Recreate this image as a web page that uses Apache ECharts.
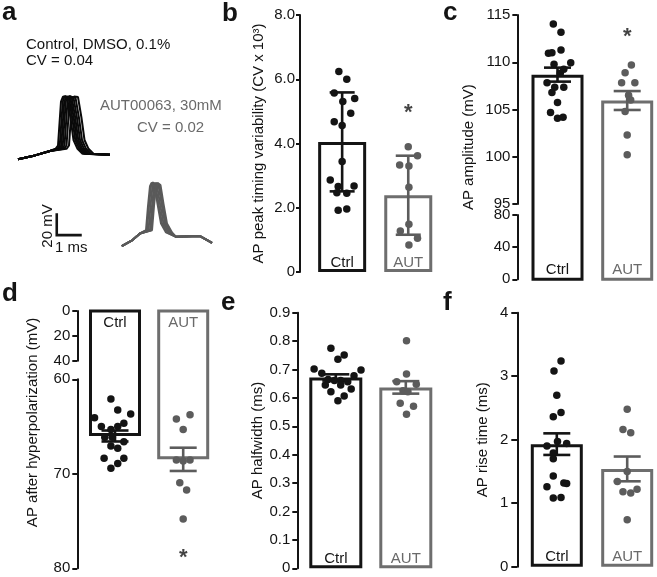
<!DOCTYPE html>
<html><head><meta charset="utf-8">
<script src="https://cdn.jsdelivr.net/npm/echarts@6/dist/echarts.min.js"></script>
<style>html,body{margin:0;padding:0;background:#fff}#c{width:657px;height:577px}</style>
</head><body><div id="c"></div>
<script>
// ---------------- DATA ----------------
const categories = ['Ctrl', 'AUT'];

// panel a : example AP traces (time in ms, membrane potential in mV, arbitrary offset)
const ctrlTraces = [
  [[0.32,-67.5],[1.0,-64],[1.6,-60],[1.82,-58],[1.92,-55],[1.98,-35],[2.04,-15],[2.12,-10.5],[2.28,-11.5],[2.42,-30],[2.54,-50],[2.70,-58],[2.90,-62.5],[4.0,-63.5]],
  [[0.32,-67.5],[1.0,-64],[1.6,-60],[1.89,-58],[1.99,-55],[2.05,-35],[2.11,-15],[2.19,-10],[2.35,-11],[2.49,-30],[2.61,-50],[2.77,-58],[2.97,-62.5],[4.0,-63.5]],
  [[0.32,-67.5],[1.0,-64],[1.6,-60],[1.95,-58],[2.05,-55],[2.11,-35],[2.17,-15],[2.25,-11],[2.41,-11.5],[2.55,-30],[2.67,-50],[2.83,-58],[3.03,-62.5],[4.0,-63.5]],
  [[0.32,-67.5],[1.0,-64],[1.6,-60],[2.01,-58],[2.11,-55],[2.17,-35],[2.23,-15],[2.31,-10.5],[2.47,-11],[2.61,-30],[2.73,-50],[2.89,-58],[3.09,-62.5],[4.0,-63.5]],
  [[0.32,-67.5],[1.0,-64],[1.6,-60],[2.08,-58],[2.18,-55],[2.24,-35],[2.30,-15],[2.38,-10],[2.54,-11.5],[2.68,-30],[2.80,-50],[2.96,-58],[3.16,-62.5],[4.0,-63.5]],
  [[0.32,-67.5],[1.0,-64],[1.6,-60],[2.16,-58],[2.26,-55],[2.32,-35],[2.38,-15],[2.46,-11],[2.62,-11.5],[2.76,-30],[2.88,-50],[3.04,-58],[3.24,-62.5],[4.0,-63.5]],
  [[0.32,-67.5],[1.0,-64],[1.6,-60],[2.26,-58],[2.36,-55],[2.42,-35],[2.48,-15],[2.56,-10.5],[2.72,-11],[2.86,-30],[2.98,-50],[3.14,-58],[3.34,-62.5],[4.0,-63.5]]
];
const autTraces = [
  [[4.47,-146.5],[4.9,-141],[5.2,-135],[5.44,-132],[5.52,-110],[5.60,-92],[5.66,-89],[5.78,-91],[5.90,-108],[6.04,-126],[6.24,-134],[6.64,-138],[7.6,-137.3],[8.08,-143.6]],
  [[4.47,-146.5],[4.9,-141],[5.2,-135],[5.48,-132],[5.56,-110],[5.64,-92],[5.70,-88.5],[5.82,-91],[5.94,-108],[6.08,-126],[6.28,-134],[6.64,-138],[7.6,-137.3],[8.08,-143.6]],
  [[4.47,-146.5],[4.9,-141],[5.2,-135],[5.54,-132],[5.62,-110],[5.70,-92],[5.76,-89],[5.88,-91.5],[6.00,-108],[6.14,-126],[6.34,-134],[6.64,-138],[7.6,-137.3],[8.08,-143.6]],
  [[4.47,-146.5],[4.9,-141],[5.2,-135],[5.60,-132],[5.68,-110],[5.76,-92],[5.82,-89],[5.94,-91],[6.06,-108],[6.20,-126],[6.40,-134],[6.64,-138],[7.6,-137.3],[8.08,-143.6]],
  [[4.47,-146.5],[4.9,-141],[5.2,-135],[5.64,-132],[5.72,-110],[5.80,-92],[5.86,-89.5],[5.98,-91],[6.10,-108],[6.24,-126],[6.44,-134],[6.64,-138],[7.6,-137.3],[8.08,-143.6]],
  [[4.47,-146.5],[4.9,-141],[5.2,-135],[5.68,-132],[5.76,-110],[5.84,-92],[5.90,-89],[6.02,-91],[6.14,-108],[6.28,-126],[6.48,-134],[6.64,-138],[7.6,-137.3],[8.08,-143.6]]
];
const scaleBar = [[1.87,-116.5],[1.87,-136.5],[2.87,-136.5]]; // 20 mV, 1 ms

// panel b : AP peak timing variability (CV x 10^3), mean +/- SD
const bMeans = [4.05, 2.39];
const bErrs = [1.54, 1.23];
const bCtrl = [6.24, 6.00, 5.57, 5.31, 5.40, 4.94, 4.68, 4.56, 3.44, 2.86, 2.66, 2.68, 2.47, 2.45, 1.92, 1.96];
const bCtrlJit = [-0.05, 0.07, -0.12, 0.01, 0.19, 0.13, -0.12, 0, 0, -0.18, -0.06, 0.18, -0.08, 0.07, -0.06, 0.07];
const bAut = [3.90, 3.62, 3.33, 3.30, 2.64, 1.49, 1.28, 1.05, 0.84];
const bAutJit = [0, 0.14, -0.13, 0.01, 0.01, 0.01, -0.12, 0.14, 0.01];
const bStar = 5.1;

// panel c : AP amplitude (mV), mean +/- SEM
const cMeans = [108.69, 105.95];
const cErrs = [0.74, 1.0];
const cCtrl = [114.05, 113.17, 110.95, 111.0, 111.3, 109.8, 109.96, 109.26, 108.83, 107.84, 107.35, 107.35, 106.8, 105.73, 104.67, 104.07, 104.17];
const cCtrlJit = [-0.06, 0.05, -0.13, -0.08, 0.05, -0.05, 0.19, 0.09, 0.04, -0.15, -0.04, 0.09, -0.08, 0, -0.10, 0, 0.08];
const cAut = [109.7, 108.9, 107.84, 107.84, 106.5, 106.0, 104.8, 102.3, 100.2];
const cAutJit = [0.06, -0.03, -0.08, 0.11, 0.02, 0.05, -0.03, 0, 0];
const cStar = 113.2;

// panel d : AP after hyperpolarization (mV), mean +/- SEM
const dMeans = [66.0, 68.47];
const dErrs = [0.58, 1.23];
const dCtrl = [62.08, 63.25, 63.67, 64.06, 65.0, 65.3, 65.0, 64.66, 66.14, 66.14, 66.6, 67.06, 67.3, 68.36, 68.36, 68.9, 69.42];
const dCtrlJit = [-0.06, 0.04, 0.23, -0.30, -0.20, -0.06, 0.04, 0.13, -0.15, -0.04, 0.13, -0.06, 0.04, -0.16, 0.13, 0.04, -0.06];
const dAut = [64.2, 63.75, 65.3, 68.54, 68.65, 68.54, 70.94, 71.71, 74.78];
const dAutJit = [-0.10, 0.10, 0, -0.10, 0, 0.10, -0.05, 0.05, 0];
const dStar = 78.4;

// panel e : AP halfwidth (ms), mean +/- SEM
const eMeans = [0.672, 0.637];
const eErrs = [0.011, 0.022];
const eCtrl = [0.775, 0.751, 0.736, 0.702, 0.687, 0.698, 0.678, 0.665, 0.661, 0.661, 0.657, 0.645, 0.645, 0.631, 0.622, 0.607, 0.590];
const eCtrlJit = [-0.07, 0.12, 0.03, -0.31, -0.20, 0.36, 0.26, -0.11, -0.02, 0.07, 0.17, -0.15, 0.07, 0.22, -0.07, 0.12, 0.03];
const eAut = [0.801, 0.684, 0.657, 0.648, 0.625, 0.622, 0.581, 0.571, 0.542];
const eAutJit = [0.01, 0.01, -0.13, 0.15, -0.04, 0.03, -0.08, 0.11, 0.01];

// panel f : AP rise time (ms), mean +/- SEM
const fMeans = [1.93, 1.54];
const fErrs = [0.17, 0.195];
const fCtrl = [3.24, 3.08, 2.70, 2.43, 2.36, 1.97, 1.90, 1.94, 1.79, 1.70, 1.43, 1.26, 1.32, 1.31, 1.08, 1.09];
const fCtrlJit = [0.06, -0.04, 0, 0.06, -0.05, 0.01, -0.14, 0.14, -0.05, -0.05, -0.05, -0.14, 0.10, 0.14, -0.05, 0.06];
const fAut = [2.48, 2.16, 2.11, 1.50, 1.34, 1.18, 1.16, 1.22, 0.74];
const fAutJit = [0, -0.06, 0.05, 0, -0.14, -0.06, 0.05, 0.14, 0];

// ---------------- STYLE ----------------
const INK = '#141414', GRAY_BAR = '#6e6e6e', GRAY_DOT = '#5c5c5c', GRAY_TXT = '#6a6a6a';
const FONT = '"Liberation Sans", Arial, Helvetica, sans-serif';
const FS = 15;

const grids = [], xAxes = [], yAxes = [], series = [];

function valAxis(min, max, interval, offset, extra) {
  return Object.assign({
    type: 'value', min: min, max: max, interval: interval, offset: offset,
    axisLine: { show: true, onZero: false, lineStyle: { color: INK, width: 2 } },
    axisTick: { show: true, length: 5, lineStyle: { color: INK, width: 2 } },
    axisLabel: { fontSize: FS, fontFamily: FONT, color: INK, margin: 7 },
    splitLine: { show: false },
    nameMoveOverlap: false,
    nameTextStyle: { fontSize: FS, fontFamily: FONT, color: INK }
  }, extra || {});
}
function addGrid(left, width, top, height) {
  return grids.push({ left: left, width: width, top: top, height: height, outerBoundsMode: 'none', containLabel: false }) - 1;
}
function addAxisOnly(left, width, top, height, yOpt) {
  const gi = addGrid(left, width, top, height);
  xAxes.push({ type: 'value', gridIndex: gi, min: 0, max: 1, show: false });
  yAxes.push(Object.assign({ gridIndex: gi }, yOpt));
}
function errorBar(capW) {
  return function (params, api) {
    const x = api.value(0), m = api.value(1), e = api.value(2);
    const hi = api.coord([x, m + e]), lo = api.coord([x, m - e]);
    const st = { stroke: api.visual('color'), lineWidth: 2.6 };
    return { type: 'group', children: [
      { type: 'line', shape: { x1: hi[0], y1: hi[1], x2: lo[0], y2: lo[1] }, style: st },
      { type: 'line', shape: { x1: hi[0] - capW / 2, y1: hi[1], x2: hi[0] + capW / 2, y2: hi[1] }, style: st },
      { type: 'line', shape: { x1: lo[0] - capW / 2, y1: lo[1], x2: lo[0] + capW / 2, y2: lo[1] }, style: st }
    ]};
  };
}
function dots(xi, yi, vals, jit, cat, color) {
  return { type: 'scatter', xAxisIndex: xi, yAxisIndex: yi, symbol: 'circle', symbolSize: 7.5, silent: true, z: 5,
    itemStyle: { color: color, opacity: 1 }, data: vals.map((v, k) => [cat + jit[k], v]) };
}
function addPanel(p) {
  const gi = addGrid(p.left, p.width, p.top, p.height);
  const xc = xAxes.push({ type: 'category', gridIndex: gi, data: categories, position: p.xPos || 'bottom', z: 10,
    axisLine: { show: false, onZero: false }, axisTick: { show: false }, splitLine: { show: false },
    axisLabel: { inside: true, margin: p.labelMargin, fontSize: FS, fontFamily: FONT, interval: 0,
      color: (v, i) => (i === 0 ? INK : GRAY_TXT) } }) - 1;
  const xv = xAxes.push({ type: 'value', gridIndex: gi, min: -0.5, max: 1.5, show: false }) - 1;
  const yi = yAxes.push(Object.assign({ gridIndex: gi }, p.yAxis)) - 1;
  series.push({ type: 'bar', xAxisIndex: xc, yAxisIndex: yi, barWidth: p.barWidth, silent: true, z: 2, clip: true,
    itemStyle: { color: '#ffffff', borderWidth: 3 },
    data: p.means.map((m, i) => ({ value: m, itemStyle: { borderColor: i === 0 ? INK : GRAY_BAR } })) });
  series.push({ type: 'custom', xAxisIndex: xc, yAxisIndex: yi, z: 4, silent: true, renderItem: errorBar(p.capWidth),
    data: p.means.map((m, i) => ({ value: [i, m, p.errs[i]], itemStyle: { color: i === 0 ? INK : GRAY_DOT } })) });
  series.push(dots(xv, yi, p.ctrl, p.ctrlJit, 0, INK));
  series.push(dots(xv, yi, p.aut, p.autJit, 1, GRAY_DOT));
  if (p.star != null) {
    series.push({ type: 'scatter', xAxisIndex: xv, yAxisIndex: yi, symbolSize: 1, silent: true, z: 6,
      itemStyle: { color: 'rgba(0,0,0,0)' },
      label: { show: true, position: 'inside', formatter: '*', fontSize: 22, fontWeight: 'bold', fontFamily: FONT, color: INK, offset: [0, 5] },
      data: [[1, p.star]] });
  }
}
const fmt1 = v => (v === 0 ? '0' : v.toFixed(1));

// ---------------- PANEL a ----------------
const gA = addGrid(10, 210, 85, 165);
xAxes.push({ type: 'value', gridIndex: gA, min: 0, max: 8.4, show: false });
yAxes.push({ type: 'value', gridIndex: gA, min: -150, max: 0, show: false });
const aX = xAxes.length - 1, aY = yAxes.length - 1;
ctrlTraces.forEach(t => series.push({ type: 'line', xAxisIndex: aX, yAxisIndex: aY, data: t, symbol: 'none', silent: true,
  lineStyle: { color: '#0a0a0a', width: 2 }, z: 2 }));
autTraces.forEach(t => series.push({ type: 'line', xAxisIndex: aX, yAxisIndex: aY, data: t, symbol: 'none', silent: true,
  lineStyle: { color: '#5a5a5a', width: 2 }, z: 2 }));
series.push({ type: 'line', xAxisIndex: aX, yAxisIndex: aY, data: scaleBar, symbol: 'none', silent: true,
  lineStyle: { color: INK, width: 2.6, cap: 'butt', join: 'miter' }, z: 3 });

// ---------------- PANEL b ----------------
addPanel({ left: 309.1, width: 132.2, top: 15, height: 257, labelMargin: 2, barWidth: 48, capWidth: 25,
  yAxis: valAxis(0, 8, 2, 9.1, { axisLabel: { fontSize: FS, fontFamily: FONT, color: INK, margin: 5, formatter: fmt1 },
    axisTick: { show: true, length: 4, lineStyle: { color: INK, width: 2 } },
    name: 'AP peak timing variability (CV x 10³)', nameLocation: 'middle', nameGap: 34 }),
  means: bMeans, errs: bErrs, ctrl: bCtrl, ctrlJit: bCtrlJit, aut: bAut, autJit: bAutJit, star: bStar });

// ---------------- PANEL c (broken axis) ----------------
const C_LEFT = 522.65, C_W = 139.4, C_TOP = 15, C_BREAK = 204, C_LOW_TOP = 215, C_BOTTOM = 279.3;
addAxisOnly(C_LEFT, C_W, C_TOP, C_BREAK - C_TOP, valAxis(95, 115, 5, 5.3));
addAxisOnly(C_LEFT, C_W, C_LOW_TOP, C_BOTTOM - C_LOW_TOP, valAxis(0, 80, 40, 5.3));
const cFullMin = 95 - (C_BOTTOM - C_BREAK) * (115 - 95) / (C_BREAK - C_TOP);
addPanel({ left: C_LEFT, width: C_W, top: C_TOP, height: C_BOTTOM - C_TOP, labelMargin: 2, barWidth: 52, capWidth: 27,
  yAxis: valAxis(cFullMin, 115, null, 5.3, { axisLine: { show: false, onZero: false }, axisTick: { show: false }, axisLabel: { show: false },
    name: 'AP amplitude (mV)', nameLocation: 'middle', nameGap: 41 }),
  means: cMeans, errs: cErrs, ctrl: cCtrl, ctrlJit: cCtrlJit, aut: cAut, autJit: cAutJit, star: cStar });

// ---------------- PANEL d (broken, inverted axis) ----------------
const D_LEFT = 80.9, D_W = 136.4, D_TOP = 311, D_UP_BOTTOM = 360.7, D_LOW_TOP = 379.3, D_BOTTOM = 568.3;
addAxisOnly(D_LEFT, D_W, D_TOP, D_UP_BOTTOM - D_TOP, valAxis(0, 40, 20, 3.6, { inverse: true }));
addAxisOnly(D_LEFT, D_W, D_LOW_TOP, D_BOTTOM - D_LOW_TOP, valAxis(60, 80, 10, 3.6, { inverse: true }));
const dFullMin = 60 - (D_LOW_TOP - D_TOP) * (80 - 60) / (D_BOTTOM - D_LOW_TOP);
addPanel({ left: D_LEFT, width: D_W, top: D_TOP, height: D_BOTTOM - D_TOP, xPos: 'top', labelMargin: 4, barWidth: 52, capWidth: 27,
  yAxis: valAxis(dFullMin, 80, null, 3.6, { inverse: true, show: false }),
  means: dMeans, errs: dErrs, ctrl: dCtrl, ctrlJit: dCtrlJit, aut: dAut, autJit: dAutJit, star: dStar });

// ---------------- PANEL e ----------------
addPanel({ left: 300.8, width: 140, top: 312.7, height: 255.6, labelMargin: 2, barWidth: 53, capWidth: 27,
  yAxis: valAxis(0, 0.9, 0.1, 3.5, { axisLabel: { fontSize: FS, fontFamily: FONT, color: INK, margin: 7, formatter: fmt1 },
    name: 'AP halfwidth (ms)', nameLocation: 'middle', nameGap: 32 }),
  means: eMeans, errs: eErrs, ctrl: eCtrl, ctrlJit: eCtrlJit, aut: eAut, autJit: eAutJit });

// ---------------- PANEL f ----------------
addPanel({ left: 521.6, width: 140.8, top: 312.7, height: 254, labelMargin: 2, barWidth: 52, capWidth: 27,
  yAxis: valAxis(0, 4, 1, 4.3, { axisTick: { show: true, length: 6, lineStyle: { color: INK, width: 2 } },
    axisLabel: { fontSize: FS, fontFamily: FONT, color: INK, margin: 9 },
    name: 'AP rise time (ms)', nameLocation: 'middle', nameGap: 27 }),
  means: fMeans, errs: fErrs, ctrl: fCtrl, ctrlJit: fCtrlJit, aut: fAut, autJit: fAutJit });

// ---------------- TEXT ----------------
function txt(text, x, y, opt) {
  return Object.assign({ type: 'text', x: x, y: y, silent: true, z: 10,
    style: Object.assign({ text: text, font: FS + 'px ' + FONT, fill: INK, align: 'left', verticalAlign: 'middle' }, (opt && opt.style) || {}) },
    opt && opt.rotation != null ? { rotation: opt.rotation } : {});
}
const bold = { style: { font: 'bold 26px ' + FONT } };
const graphic = [
  txt('a', 2, 12.7, bold), txt('b', 222, 14.3, bold), txt('c', 443, 12.7, bold),
  txt('d', 2, 294.3, bold), txt('e', 221, 302.7, bold), txt('f', 443, 302.7, bold),
  txt('Control, DMSO, 0.1%', 26, 45), txt('CV = 0.04', 26, 61),
  txt('AUT00063, 30mM', 100, 106, { style: { fill: GRAY_TXT } }),
  txt('CV = 0.02', 137, 128, { style: { fill: GRAY_TXT } }),
  txt('20 mV', 47.5, 226, { rotation: Math.PI / 2, style: { align: 'center' } }),
  txt('1 ms', 55, 248),
  txt('AP after hyperpolarization (mV)', 32.5, 422.5, { rotation: Math.PI / 2, style: { align: 'center' } })
];

const chart = echarts.init(document.getElementById('c'), null, { renderer: 'canvas' });
chart.setOption({
  animation: false,
  backgroundColor: '#ffffff',
  textStyle: { fontFamily: FONT },
  grid: grids, xAxis: xAxes, yAxis: yAxes, series: series, graphic: graphic
});
</script></body></html>
